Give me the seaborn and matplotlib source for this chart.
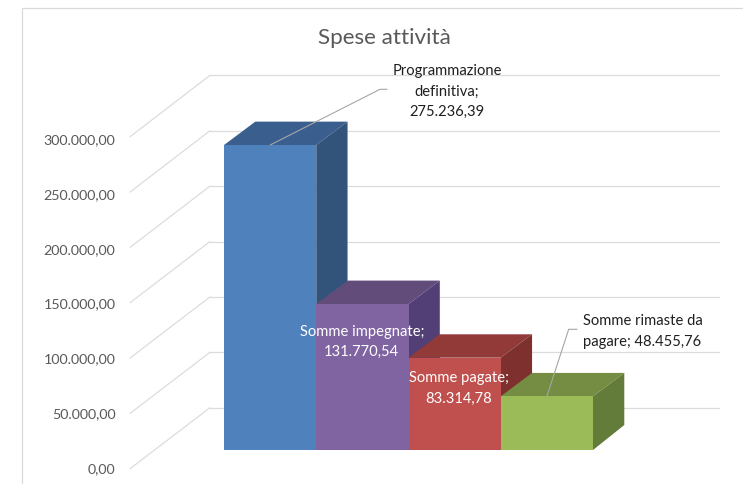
import matplotlib
matplotlib.use("Agg")
import matplotlib.pyplot as plt
import seaborn as sns
from matplotlib.lines import Line2D
from matplotlib.patches import Polygon
from matplotlib.transforms import Affine2D

categories = ["Programmazione definitiva", "Somme impegnate", "Somme pagate", "Somme rimaste da pagare"]
values = [275236.39, 131770.54, 83314.78, 48455.76]
tick_values = [0, 50000, 100000, 150000, 200000, 250000, 300000]
title = "Spese attività"
front_colors = ["#4F81BD", "#8064A2", "#C0504D", "#9BBB59"]
top_colors = ["#3A5F8F", "#614C7A", "#923A38", "#748D42"]
side_colors = ["#32547A", "#523F75", "#7D302E", "#647C39"]

W, H = 743, 484
GRAY = "#595959"
GRID = "#DCDCDC"


def it(v):
    return f"{v:,.2f}".replace(",", "X").replace(".", ",").replace("X", ".")


sns.set_theme(style="white", rc={"font.family": ["Lato", "DejaVu Sans"]})
fig = plt.figure(figsize=(W / 100, H / 100), dpi=100, facecolor="white")


def axes_px(x0, x1, ytop, ybot):
    return [x0 / W, 1 - ybot / H, (x1 - x0) / W, (ybot - ytop) / H]


# outer chart frame (open at right and bottom, cut by the picture edge)
fig.add_artist(Line2D([22 / W, 22 / W, 1], [0, 1 - 8 / H, 1 - 8 / H], color="#D9D9D9", lw=0.9))

# axis that carries the value labels (front edge of the left wall)
ax_ticks = fig.add_axes(axes_px(130, 718, 139, 468))
ax_ticks.set_ylim(0, 300000)
ax_ticks.set_xlim(0, 1)
ax_ticks.set_xticks([])
ax_ticks.set_yticks(tick_values, [it(v) for v in tick_values])
ax_ticks.tick_params(axis="y", length=0, pad=10.4, labelsize=10.3, labelcolor=GRAY)
ax_ticks.patch.set_visible(False)
sns.despine(ax=ax_ticks, left=True, bottom=True)

# front plane of the bars
ax = fig.add_axes(axes_px(224, 593, 450 - 332.4, 450))
ax.patch.set_visible(False)
sns.barplot(x=categories, y=values, hue=categories, palette=front_colors, hue_order=categories,
            order=categories, width=1, saturation=1, legend=False, edgecolor="none", linewidth=0, ax=ax)
ax.set_xlim(-0.5, 3.5)
ax.set_ylim(0, 300000)
ax.set_xticks([])
ax.set_yticks([])
ax.set_xlabel("")
ax.set_ylabel("")
sns.despine(ax=ax, left=True, bottom=True)

px_per_cat = (593 - 224) / 4
px_per_val = 332.4 / 300000


def cx(px):
    return -0.5 + (px - 224) / px_per_cat


def pt(xpx, ypx):
    return cx(xpx), (450 - ypx) / px_per_val


# back wall gridlines and left wall diagonals
GRID_LEFT, GRID_RIGHT, DIAG_LEFT = 210, 718.7, 130
back = ax.transData + Affine2D().translate(0, 42.3)
for v in tick_values:
    ax.add_line(Line2D([cx(GRID_LEFT), cx(GRID_RIGHT)], [v, v], transform=back, color=GRID,
                       lw=0.9, clip_on=False, zorder=0.5))
    by = 450 - 42.3 - v * px_per_val
    fy = 468.7 - v * px_per_val * 0.9985
    ax.add_line(Line2D([cx(DIAG_LEFT), cx(GRID_LEFT)], [pt(0, fy)[1], pt(0, by)[1]], color=GRID,
                       lw=0.9, clip_on=False, zorder=0.5))

# extruded faces
DX = 31.3 / px_per_cat
DY_TOP = 23.4 / px_per_val
DY_BOT = 25.0 / px_per_val
for i, (patch, v) in enumerate(zip(ax.patches, values)):
    z = 2 + i
    patch.set_zorder(z + 0.2)
    x0, x1 = i - 0.5, i + 0.5
    ax.add_patch(Polygon([(x0, v), (x1, v), (x1 + DX, v + DY_TOP), (x0 + DX, v + DY_TOP)],
                         closed=True, fc=top_colors[i], ec="none", clip_on=False, zorder=z))
    ax.add_patch(Polygon([(x1, 0), (x1, v), (x1 + DX, v + DY_TOP), (x1 + DX, DY_BOT)],
                         closed=True, fc=side_colors[i], ec="none", clip_on=False, zorder=z))

# leader lines
LEADER = "#A6A6A6"
p1, p2 = pt(380, 89.3), pt(387, 89.3)
ax.add_line(Line2D([0, p1[0], p2[0]], [values[0], p1[1], p2[1]], color=LEADER, lw=0.8,
                   clip_on=False, zorder=20))
p1, p2 = pt(568.7, 329.3), pt(577, 329.3)
ax.add_line(Line2D([3, p1[0], p2[0]], [values[3], p1[1], p2[1]], color=LEADER, lw=0.8,
                   clip_on=False, zorder=20))

# data labels
LABELS = [
    ("Programmazione\ndefinitiva;\n" + it(values[0]), 447, 91.5, "#1F1F1F"),
    ("Somme impegnate;\n" + it(values[1]), 361.7, 342, "white"),
    ("Somme pagate;\n" + it(values[2]), 458.7, 388.5, "white"),
    ("Somme rimaste da\npagare; " + it(values[3]), 642.5, 331.5, "#1F1F1F"),
]
for text, xpx, ypx, col in LABELS:
    ax.text(*pt(xpx, ypx), text, ha="center", va="center", fontsize=10.6, color=col,
            linespacing=1.55, zorder=30, clip_on=False)

fig.text(384.5 / W, 1 - 38.5 / H, title, ha="center", va="center", fontsize=16.2, color=GRAY)

fig.savefig("out.png", dpi=100, facecolor="white")
